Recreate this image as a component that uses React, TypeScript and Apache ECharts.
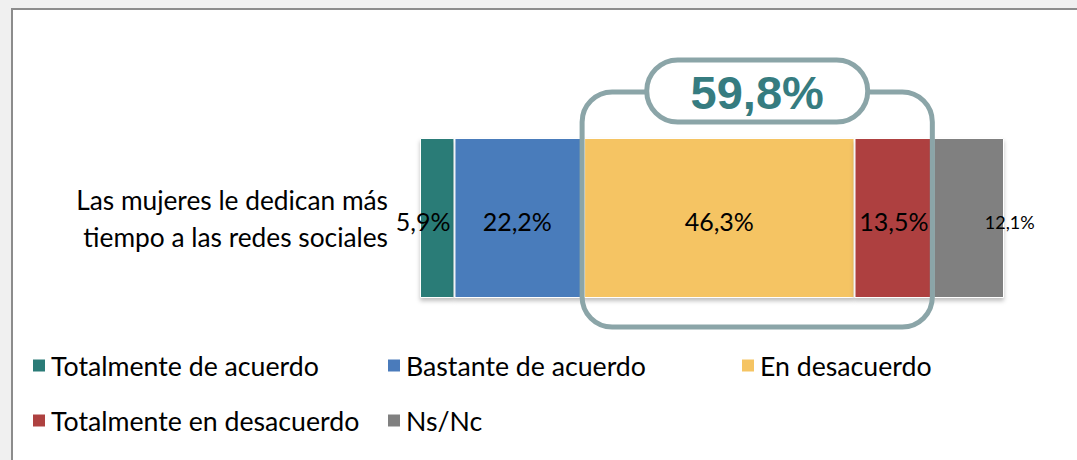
import React, { useEffect, useRef } from "react";
import * as echarts from "echarts";

const categories = ["Las mujeres le dedican más\ntiempo a las redes sociales"];
const seriesNames = [
  "Totalmente de acuerdo",
  "Bastante de acuerdo",
  "En desacuerdo",
  "Totalmente en desacuerdo",
  "Ns/Nc",
];
const seriesValues = [[5.9], [22.2], [46.3], [13.5], [12.1]];
const seriesColors = ["#2a7b77", "#4a7bbb", "#f5c463", "#ae4140", "#808080"];
const labelOffsets = [[-14, 3], [-2, 3], [0, 3], [0, 3], [41, 4]];
const labelSizes = [25, 25, 25, 25, 18];
const calloutLabel = "59,8%";
const calloutFirst = 2;
const calloutLast = 3;

const legendLefts = [31, 386, 740, 31, 386];
const legendTops = [352, 352, 352, 407, 407];

const FONT = "Lato, 'Open Sans', sans-serif";

const fmt = (v: number) => v.toFixed(1).replace(".", ",") + "%";

export default function App() {
  const ref = useRef<HTMLDivElement>(null);
  useEffect(() => {
    if (!ref.current) return;
    const chart = echarts.init(ref.current, undefined, { renderer: "svg" });
    const option: any = {
      animation: false,
      backgroundColor: "transparent",
      textStyle: { fontFamily: FONT },
      grid: { left: 420, right: 73, top: 138, bottom: 162, containLabel: false },
      xAxis: { type: "value", min: 0, max: 100, show: false },
      yAxis: {
        type: "category",
        data: categories,
        axisLine: { show: false },
        axisTick: { show: false },
        axisLabel: {
          margin: 32,
          fontSize: 26.3,
          lineHeight: 37,
          color: "#000",
          fontFamily: FONT,
          align: "right",
        },
      },
      legend: seriesNames.map((n, i) => ({
        data: [n],
        left: legendLefts[i],
        top: legendTops[i],
        padding: 0,
        icon: "rect",
        itemWidth: 14,
        itemHeight: 14,
        itemGap: 8,
        selectedMode: false,
        textStyle: { fontSize: 26.7, color: "#000", fontFamily: FONT, padding: [0, 0, 0, 0] },
      })),
      series: seriesNames.map((n, i) => ({
        name: n,
        type: "bar",
        stack: "total",
        barWidth: "100%",
        data: seriesValues[i],
        itemStyle: {
          color: seriesColors[i],
          borderColor: "#ffffff",
          borderWidth: 1,
          shadowColor: "rgba(0,0,0,0.25)",
          shadowBlur: 4,
          shadowOffsetY: 3,
        },
        label: {
          show: true,
          position: "inside",
          offset: labelOffsets[i],
          formatter: (p: any) => fmt(p.value),
          fontSize: labelSizes[i],
          color: "#000",
          fontFamily: FONT,
        },
      })),
    };
    chart.setOption(option);

    // callout around the grouped segments
    let start = 0;
    for (let i = 0; i < calloutFirst; i++) start += seriesValues[i][0];
    let end = start;
    for (let i = calloutFirst; i <= calloutLast; i++) end += seriesValues[i][0];
    const p0 = chart.convertToPixel({ gridIndex: 0 }, [start, 0]) as number[];
    const p1 = chart.convertToPixel({ gridIndex: 0 }, [end, 0]) as number[];
    const x0 = p0[0] - 2;
    const x1 = p1[0] - 1;
    const yc = p0[1];
    const top = yc - 126;
    const bottom = yc + 109;
    const cx = (x0 + x1) / 2;
    const pillW = 221;
    const pillH = 62;
    const pillTop = yc - 158;
    const stroke = "#8ba5a8";
    chart.setOption({
      graphic: [
        {
          type: "rect",
          z: 100,
          shape: { x: x0, y: top, width: x1 - x0, height: bottom - top, r: 30 },
          style: { fill: "none", stroke, lineWidth: 5 },
          silent: true,
        },
        {
          type: "rect",
          z: 101,
          shape: { x: cx - pillW / 2, y: pillTop, width: pillW, height: pillH, r: pillH / 2 },
          style: { fill: "#ffffff", stroke, lineWidth: 5 },
          silent: true,
        },
        {
          type: "text",
          z: 102,
          x: cx,
          y: pillTop + pillH / 2 + 1,
          style: {
            text: calloutLabel,
            fill: "#367c80",
            font: "bold 47px 'Liberation Sans', Arial, sans-serif",
            align: "center",
            verticalAlign: "middle",
          },
          silent: true,
        },
      ],
    });
    return () => chart.dispose();
  }, []);

  return (
    <div style={{ position: "absolute", left: 0, top: 0, width: 1077, height: 460, background: "#f0f0f0", overflow: "hidden" }}>
      <div
        style={{
          position: "absolute",
          left: 11,
          top: 8,
          width: 1100,
          height: 500,
          background: "#ffffff",
          borderLeft: "2px solid #8c8c8c",
          borderTop: "2px solid #8c8c8c",
        }}
      />
      <div ref={ref} style={{ position: "absolute", left: 0, top: 0, width: 1077, height: 460 }} />
    </div>
  );
}
